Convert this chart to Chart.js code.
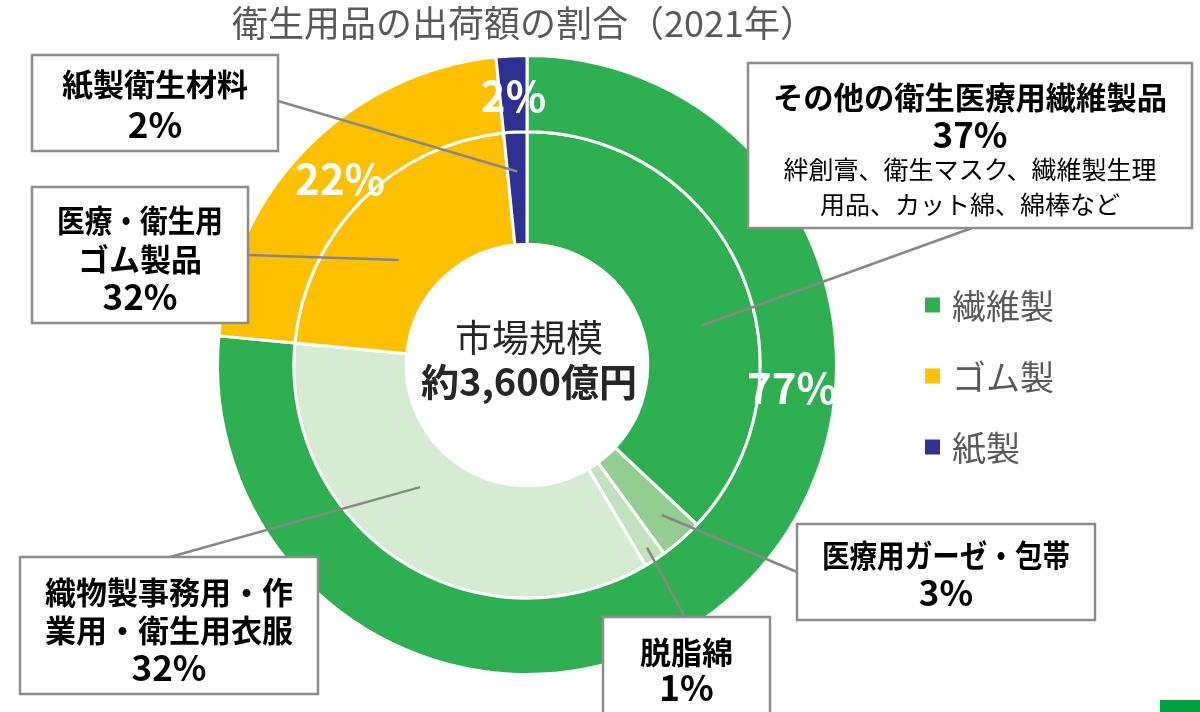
<!DOCTYPE html>
<html lang="ja">
<head>
<meta charset="UTF-8">
<title>衛生用品の出荷額の割合</title>
<script src="https://cdn.jsdelivr.net/npm/chart.js"></script>
<style>
  html, body { margin: 0; padding: 0; background: #ffffff; }
  #wrap { position: relative; width: 1200px; height: 712px; overflow: hidden; }
</style>
</head>
<body>
<div id="wrap"><canvas id="graf" width="1200" height="712"></canvas></div>
<script>
// outer ring: material
const outerLabels = ['繊維製', 'ゴム製', '紙製'];
const outerValues = [76.5, 21.9, 1.6];
const outerPct = ['77%', '22%', '2%'];

// inner ring: product group
const innerLabels = [
  ['その他の衛生医療用繊維製品'],
  ['医療用ガーゼ・包帯'],
  ['脱脂綿'],
  ['織物製事務用・作', '業用・衛生用衣服'],
  ['医療・衛生用', 'ゴム製品'],
  ['紙製衛生材料']
];
const innerValues = [37, 3, 1.5, 35, 21.9, 1.6];
const innerPct = ['37%', '3%', '1%', '32%', '32%', '2%'];
const innerNotes = [['絆創膏、衛生マスク、繊維製生理', '用品、カット綿、綿棒など'], [], [], [], [], []];

const titulo = '衛生用品の出荷額の割合（2021年）';
const centro = ['市場規模', '約3,600億円'];

const coresFora = ['#2EB052', '#FFC000', '#2E3192'];
const coresDentro = ['#2EB052', '#94CD91', '#C0E2BD', '#D5ECD3', '#FFC000', '#2E3192'];

const fonte = '"Noto Sans CJK JP", "Noto Sans", sans-serif';

// callout boxes (x, y, w, h), start of leader line, point on the arc (a = along, t = radial)
const caixas = [
  { i: 0, box: [748, 63, 444, 165], from: [972, 228], a: 0.58, t: 0.52, ys: [97, 135, 169, 204] },
  { i: 1, box: [797, 524, 298, 96], from: [797, 572], a: 0.45, t: 0.72, ys: [555, 593] },
  { i: 2, box: [603, 617, 167, 120], from: [685, 617], a: 0.5, t: 0.87, ys: [652, 688] },
  { i: 3, box: [20, 557, 298, 137], from: [170, 557], a: 0.57, t: 0.37, ys: [592, 630, 668] },
  { i: 4, box: [32, 187, 216, 136], from: [248, 255], a: 0.43, t: 0.4, ys: [220, 259, 297] },
  { i: 5, box: [32, 55, 246, 96], from: [278, 101], a: 0.5, t: 0.65, ys: [84, 125] }
];
const rotulosFora = [
  { i: 0, a: 0.345, t: 0.43 },
  { i: 1, a: 0.5, t: 0.4 },
  { i: 2, a: 0.5, t: 0.47 }
];

function pontoArco(arc, a, t) {
  const p = arc.getProps(['x', 'y', 'startAngle', 'endAngle', 'innerRadius', 'outerRadius'], true);
  const ang = p.startAngle + (p.endAngle - p.startAngle) * a;
  const r = p.innerRadius + (p.outerRadius - p.innerRadius) * t;
  return { x: p.x + Math.cos(ang) * r, y: p.y + Math.sin(ang) * r };
}

const desenhos = {
  id: 'desenhos',
  afterDraw(chart) {
    const ctx = chart.ctx;
    const fora = chart.getDatasetMeta(0).data;
    const dentro = chart.getDatasetMeta(1).data;
    ctx.save();
    ctx.textAlign = 'center';
    ctx.textBaseline = 'middle';

    // title
    ctx.fillStyle = '#595959';
    ctx.font = '36px ' + fonte;
    ctx.fillText(titulo, 524, 23);

    // centre text
    const c = fora[0].getProps(['x', 'y'], true);
    ctx.fillStyle = '#262626';
    ctx.font = '37px ' + fonte;
    ctx.fillText(centro[0], c.x + 2, c.y - 27);
    ctx.font = 'bold 38px ' + fonte;
    ctx.fillText(centro[1], c.x + 2, c.y + 17);

    // outer percentages
    ctx.fillStyle = '#ffffff';
    ctx.font = 'bold 42px ' + fonte;
    rotulosFora.forEach(r => {
      const p = pontoArco(fora[r.i], r.a, r.t);
      ctx.fillText(outerPct[r.i], p.x, p.y);
    });

    // leader lines
    ctx.strokeStyle = '#878787';
    ctx.lineWidth = 2.5;
    caixas.forEach(cx => {
      const p = pontoArco(dentro[cx.i], cx.a, cx.t);
      ctx.beginPath();
      ctx.moveTo(cx.from[0], cx.from[1]);
      ctx.lineTo(p.x, p.y);
      ctx.stroke();
    });

    // boxes
    caixas.forEach(cx => {
      const [x, y, w, h] = cx.box;
      ctx.fillStyle = '#ffffff';
      ctx.fillRect(x, y, w, h);
      ctx.strokeStyle = '#8c8c8c';
      ctx.lineWidth = 2.5;
      ctx.strokeRect(x, y, w, h);
      const nomes = innerLabels[cx.i];
      const notas = innerNotes[cx.i];
      const mx = x + w / 2;
      ctx.fillStyle = '#000000';
      ctx.font = 'bold 31px ' + fonte;
      nomes.forEach((l, k) => ctx.fillText(l, mx, cx.ys[k], w - 50));
      ctx.font = 'bold 35px ' + fonte;
      ctx.fillText(innerPct[cx.i], mx, cx.ys[nomes.length]);
      ctx.font = '25px ' + fonte;
      notas.forEach((l, k) => ctx.fillText(l, mx, cx.ys[nomes.length + 1 + k]));
    });

    // legend
    ctx.textAlign = 'left';
    ctx.font = '34px ' + fonte;
    outerLabels.forEach((l, k) => {
      const y = 305 + k * 71;
      ctx.fillStyle = coresFora[k];
      ctx.fillRect(925, y - 7.5, 15, 15);
      ctx.fillStyle = '#595959';
      ctx.fillText(l, 952, y + 1);
    });

    // corner mark
    ctx.fillStyle = '#00A040';
    ctx.fillRect(1160, 700, 40, 12);
    ctx.restore();
  }
};

new Chart(document.getElementById('graf').getContext('2d'), {
  type: 'doughnut',
  data: {
    labels: outerLabels,
    datasets: [
      {
        label: '素材',
        data: outerValues,
        backgroundColor: coresFora,
        borderColor: '#ffffff',
        borderWidth: 3,
        weight: 76
      },
      {
        label: '品目',
        data: innerValues,
        backgroundColor: coresDentro,
        borderColor: '#ffffff',
        borderWidth: 3,
        weight: 112
      }
    ]
  },
  options: {
    responsive: false,
    animation: false,
    cutout: '39%',
    layout: { padding: { top: 54, bottom: 36, left: 216, right: 362 } },
    plugins: {
      legend: { display: false },
      tooltip: { enabled: false }
    }
  },
  plugins: [desenhos]
});
</script>
</body>
</html>
